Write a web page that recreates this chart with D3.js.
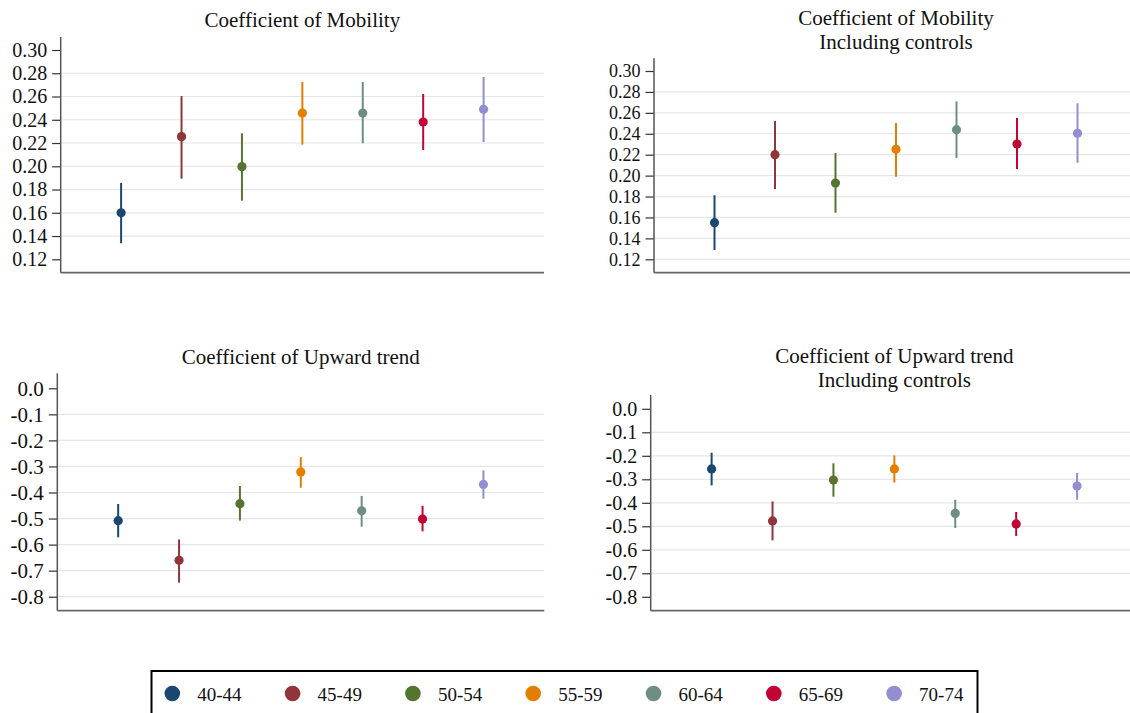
<!DOCTYPE html>
<html><head><meta charset="utf-8">
<script src="https://cdn.jsdelivr.net/npm/d3@7"></script>
<style>html,body{margin:0;padding:0;background:#fff;overflow:hidden}svg{display:block}
svg text{font-family:"Liberation Serif","DejaVu Serif",serif !important;}</style>
</head><body>
<script>
const categories = ["40-44","45-49","50-54","55-59","60-64","65-69","70-74"];
const colors = ["#1a476f","#90353b","#55752f","#e37e00","#6e8e84","#c10534","#938dd2"];

// Coefficient of Mobility
const mobEst = [0.160,0.2255,0.1997,0.2458,0.2458,0.2381,0.2490];
const mobLo  = [0.1338,0.1893,0.1704,0.2186,0.2198,0.2140,0.2209];
const mobHi  = [0.1856,0.2604,0.2284,0.2725,0.2725,0.2622,0.2768];
// Coefficient of Mobility, including controls
const mobCEst = [0.155,0.220,0.1929,0.2251,0.2439,0.2302,0.2404];
const mobCLo  = [0.1289,0.1872,0.1645,0.1990,0.2168,0.2063,0.2123];
const mobCHi  = [0.1812,0.2522,0.2216,0.2503,0.2710,0.2551,0.2691];
// Coefficient of Upward trend
const upEst = [-0.508,-0.660,-0.443,-0.321,-0.470,-0.502,-0.369];
const upLo  = [-0.572,-0.746,-0.508,-0.382,-0.531,-0.549,-0.424];
const upHi  = [-0.444,-0.580,-0.375,-0.264,-0.413,-0.451,-0.315];
// Coefficient of Upward trend, including controls
const upCEst = [-0.256,-0.477,-0.303,-0.256,-0.445,-0.490,-0.329];
const upCLo  = [-0.326,-0.560,-0.374,-0.314,-0.507,-0.541,-0.387];
const upCHi  = [-0.187,-0.394,-0.232,-0.198,-0.387,-0.439,-0.273];

const mobTicks = [0.12,0.14,0.16,0.18,0.20,0.22,0.24,0.26,0.28,0.30];
const upTicks = [0.0,-0.1,-0.2,-0.3,-0.4,-0.5,-0.6,-0.7,-0.8];
const gridTL = [0.14,0.16,0.18,0.20,0.22,0.24,0.26,0.28];
const gridTR = [0.12,0.14,0.16,0.18,0.20,0.22,0.24,0.26,0.28];
const gridBL = [-0.1,-0.2,-0.3,-0.4,-0.5,-0.6,-0.7,-0.8];
const gridBR = [-0.1,-0.2,-0.3,-0.4,-0.5,-0.6,-0.7];

const W = 1130, H = 713;
const FONT = "Liberation Serif, DejaVu Serif, serif";
const svg = d3.select("body").append("svg").attr("width", W).attr("height", H);

const panels = [
  {title:["Coefficient of Mobility"], titleY:[27], x0:60.7, x1:544, top:37, bottom:272.7,
   tv:[0.12,0.30], tp:[259.3,50], ticks:mobTicks, grid:gridTL, fmt:v=>v.toFixed(2), fs:20,
   est:mobEst, lo:mobLo, hi:mobHi},
  {title:["Coefficient of Mobility","Including controls"], titleY:[25,49], x0:654, x1:1138, top:58.3, bottom:272.7,
   tv:[0.12,0.30], tp:[259.3,71], ticks:mobTicks, grid:gridTR, fmt:v=>v.toFixed(2), fs:18,
   est:mobCEst, lo:mobCLo, hi:mobCHi},
  {title:["Coefficient of Upward trend"], titleY:[364], x0:57.3, x1:544.3, top:373.3, bottom:610.7,
   tv:[0,-0.8], tp:[388.3,596.7], ticks:upTicks, grid:gridBL, fmt:v=>(Math.abs(v)<1e-9?0:v).toFixed(1), fs:21,
   est:upEst, lo:upLo, hi:upHi},
  {title:["Coefficient of Upward trend","Including controls"], titleY:[362.5,386.5], x0:650.7, x1:1138, top:395, bottom:610.7,
   tv:[0,-0.8], tp:[408.8,596.8], ticks:upTicks, grid:gridBR, fmt:v=>(Math.abs(v)<1e-9?0:v).toFixed(1), fs:20,
   est:upCEst, lo:upCLo, hi:upCHi}
];

panels.forEach(p => {
  const g = svg.append("g");
  const x = d3.scalePoint().domain(categories).range([p.x0, p.x1]).padding(1);
  const y = d3.scaleLinear().domain(p.tv).range(p.tp);

  g.selectAll("line.grid").data(p.grid).enter().append("line")
    .attr("x1", p.x0).attr("x2", p.x1)
    .attr("y1", d => y(d)).attr("y2", d => y(d))
    .attr("stroke", "#e6e6e6").attr("stroke-width", 1.2);

  const ax = d3.axisLeft(y).tickValues(p.ticks).tickFormat(p.fmt).tickSize(8.5).tickPadding(5);
  const ag = g.append("g").attr("transform", `translate(${p.x0},0)`).call(ax)
    .attr("font-family", FONT).attr("font-size", p.fs);
  ag.select(".domain").remove();
  ag.selectAll(".tick line").attr("stroke", "#333").attr("stroke-width", 1.2);
  ag.selectAll(".tick text").attr("fill", "#111");

  g.append("line").attr("x1", p.x0).attr("x2", p.x0).attr("y1", p.top).attr("y2", p.bottom)
    .attr("stroke", "#555").attr("stroke-width", 1.5);
  g.append("line").attr("x1", p.x0).attr("x2", p.x1).attr("y1", p.bottom).attr("y2", p.bottom)
    .attr("stroke", "#666").attr("stroke-width", 1.8);

  g.selectAll("line.ci").data(categories).enter().append("line")
    .attr("x1", d => x(d)).attr("x2", d => x(d))
    .attr("y1", (d,i) => y(p.lo[i])).attr("y2", (d,i) => y(p.hi[i]))
    .attr("stroke", (d,i) => colors[i]).attr("stroke-width", 2);
  g.selectAll("circle").data(categories).enter().append("circle")
    .attr("cx", d => x(d)).attr("cy", (d,i) => y(p.est[i])).attr("r", 4.6)
    .attr("fill", (d,i) => colors[i]);

  const cx = (p.x0 + p.x1) / 2;
  p.title.forEach((t, k) => {
    g.append("text").attr("x", cx).attr("y", p.titleY[k]).attr("text-anchor", "middle")
      .attr("font-family", FONT).attr("font-size", 21).attr("fill", "#111").text(t);
  });
});

const lg = svg.append("g");
lg.append("rect").attr("x", 151.5).attr("y", 671).attr("width", 826).attr("height", 60)
  .attr("fill", "#fff").attr("stroke", "#000").attr("stroke-width", 2);
const lx = d3.scalePoint().domain(categories).range([172.3, 172.3 + 6*120.3]);
const items = lg.selectAll("g.item").data(categories).enter().append("g");
items.append("circle").attr("cx", d => lx(d)).attr("cy", 693.5).attr("r", 7.8)
  .attr("fill", (d,i) => colors[i]);
items.append("text").attr("x", d => lx(d) + 25).attr("y", 700.5)
  .attr("font-family", FONT).attr("font-size", 19).attr("fill", "#111").text(d => d);
</script>
</body></html>
